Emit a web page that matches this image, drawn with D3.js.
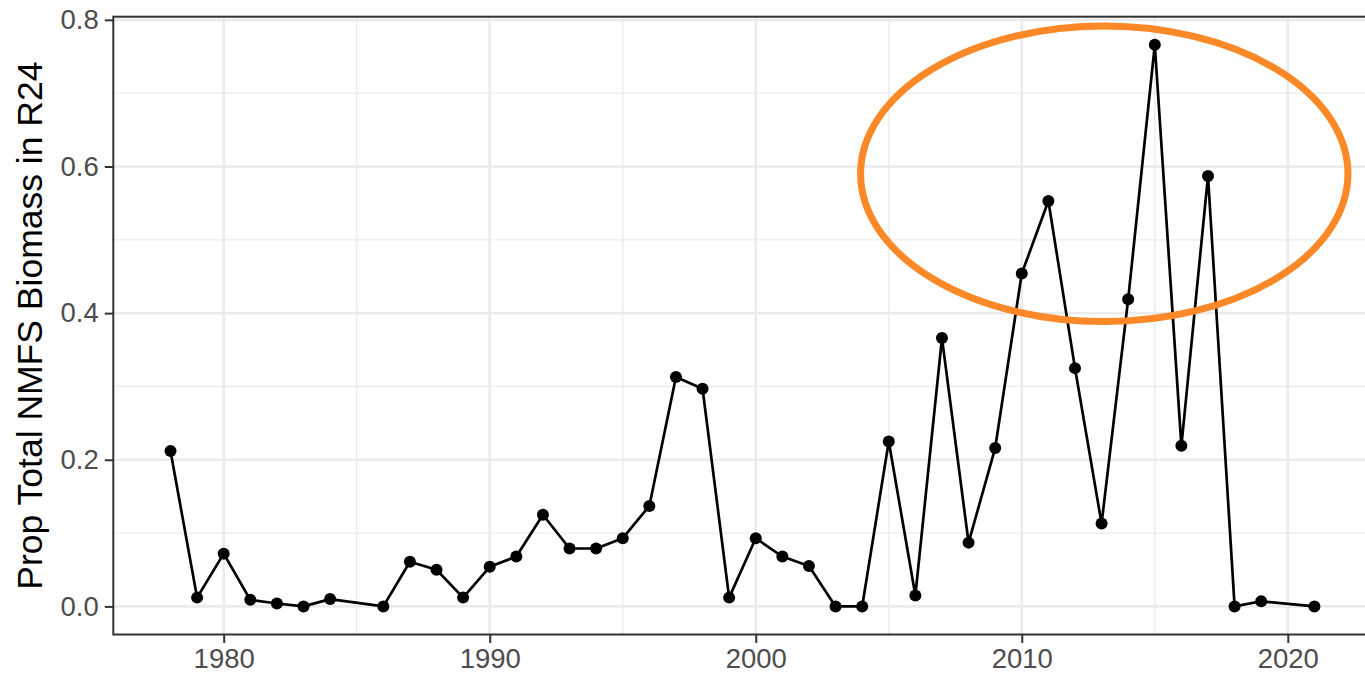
<!DOCTYPE html>
<html>
<head>
<meta charset="utf-8">
<script src="https://cdn.jsdelivr.net/npm/d3@7"></script>
<style>
  html, body { margin: 0; padding: 0; background: #fff; overflow: hidden; }
  svg text { font-family: "Liberation Sans", Arial, sans-serif; }
</style>
</head>
<body>
<div id="chart"></div>
<script>
// survey years and proportion of total biomass in R24
var years = [1978,1979,1980,1981,1982,1983,1984,1986,1987,1988,1989,
             1990,1991,1992,1993,1994,1995,1996,1997,1998,1999,
             2000,2001,2002,2003,2004,2005,2006,2007,2008,2009,
             2010,2011,2012,2013,2014,2015,2016,2017,2018,2019,2021];
var props = [0.212,0.012,0.072,0.009,0.004,0.000,0.010,0.000,0.061,0.050,0.012,
             0.054,0.068,0.125,0.079,0.079,0.093,0.137,0.313,0.297,0.012,
             0.093,0.068,0.055,0.000,0.000,0.225,0.015,0.366,0.087,0.216,
             0.454,0.553,0.325,0.113,0.419,0.766,0.219,0.587,0.000,0.007,0.000];

var xTicks = [1980,1990,2000,2010,2020];
var xMinor = [1975,1985,1995,2005,2015];
var yTicks = [0.0,0.2,0.4,0.6,0.8];
var yMinor = [0.1,0.3,0.5,0.7];
var yTitle = "Prop Total NMFS Biomass in R24";

// highlight ellipse (data units: centre year, centre value, half-width years, half-height value)
var highlight = [2013.1, 0.590, 9.16, 0.2015];

var W = 1365, H = 681;
var pLeft = 113.3, pTop = 16.7, pBottom = 634.5, pRight = 1371.6;

// ggplot style 5% expansion
var xr = d3.extent(years), xpad = (xr[1]-xr[0])*0.05;
var yr = d3.extent(props), ypad = (yr[1]-yr[0])*0.05;

var x = d3.scaleLinear().domain([xr[0]-xpad, xr[1]+xpad]).range([pLeft, pRight]);
var y = d3.scaleLinear().domain([yr[0]-ypad, yr[1]+ypad]).range([pBottom, pTop]);

var svg = d3.select("#chart").append("svg")
  .attr("width", W).attr("height", H);

svg.append("defs").append("clipPath").attr("id", "panelclip")
  .append("rect")
  .attr("x", pLeft).attr("y", pTop)
  .attr("width", pRight-pLeft).attr("height", pBottom-pTop);

var panel = svg.append("g").attr("clip-path", "url(#panelclip)");

// minor grid
panel.selectAll(".ymin").data(yMinor).enter().append("line")
  .attr("x1", pLeft).attr("x2", pRight)
  .attr("y1", d => y(d)).attr("y2", d => y(d))
  .attr("stroke", "#EBEBEB").attr("stroke-width", 1.3);
panel.selectAll(".xmin").data(xMinor).enter().append("line")
  .attr("y1", pTop).attr("y2", pBottom)
  .attr("x1", d => x(d)).attr("x2", d => x(d))
  .attr("stroke", "#EBEBEB").attr("stroke-width", 1.3);
// major grid
panel.selectAll(".ymaj").data(yTicks).enter().append("line")
  .attr("x1", pLeft).attr("x2", pRight)
  .attr("y1", d => y(d)).attr("y2", d => y(d))
  .attr("stroke", "#EBEBEB").attr("stroke-width", 2.6);
panel.selectAll(".xmaj").data(xTicks).enter().append("line")
  .attr("y1", pTop).attr("y2", pBottom)
  .attr("x1", d => x(d)).attr("x2", d => x(d))
  .attr("stroke", "#EBEBEB").attr("stroke-width", 2.6);

// data line + points
var pts = years.map((yr, i) => [yr, props[i]]);
svg.append("path")
  .datum(pts)
  .attr("fill", "none")
  .attr("stroke", "#000")
  .attr("stroke-width", 2.7)
  .attr("stroke-linejoin", "round")
  .attr("d", d3.line().x(d => x(d[0])).y(d => y(d[1])));

svg.selectAll(".pt").data(pts).enter().append("circle")
  .attr("cx", d => x(d[0])).attr("cy", d => y(d[1]))
  .attr("r", 6).attr("fill", "#000");

// orange highlight
svg.append("ellipse")
  .attr("cx", x(highlight[0])).attr("cy", y(highlight[1]))
  .attr("rx", x(highlight[0] + highlight[2]) - x(highlight[0]))
  .attr("ry", y(highlight[1]) - y(highlight[1] + highlight[3]))
  .attr("fill", "none")
  .attr("stroke", "#FC8828")
  .attr("stroke-width", 7);

// panel border
svg.append("rect")
  .attr("x", pLeft).attr("y", pTop)
  .attr("width", pRight-pLeft).attr("height", pBottom-pTop)
  .attr("fill", "none").attr("stroke", "#333333").attr("stroke-width", 2);

// axes
var yAxis = svg.append("g")
  .attr("transform", "translate(" + pLeft + ",0)")
  .call(d3.axisLeft(y).tickValues(yTicks).tickFormat(d3.format(".1f")).tickSize(8.5).tickPadding(6));
var xAxis = svg.append("g")
  .attr("transform", "translate(0," + pBottom + ")")
  .call(d3.axisBottom(x).tickValues(xTicks).tickFormat(d3.format("d")).tickSize(8.5).tickPadding(5));

[yAxis, xAxis].forEach(function(a){
  a.attr("font-size", 27.5).attr("font-family", "'Liberation Sans', Arial, sans-serif");
  a.select(".domain").remove();
  a.selectAll(".tick line").attr("stroke", "#333333").attr("stroke-width", 2);
  a.selectAll(".tick text").attr("fill", "#4D4D4D");
});

svg.append("text")
  .attr("transform", "translate(42," + ((pTop+pBottom)/2) + ") rotate(-90)")
  .attr("text-anchor", "middle")
  .attr("fill", "#000")
  .attr("font-size", 35.5)
  .text(yTitle);
</script>
</body>
</html>
